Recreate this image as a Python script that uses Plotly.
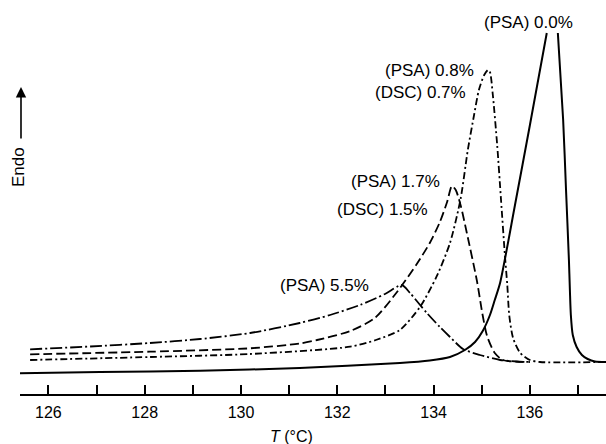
import plotly.graph_objects as go

# Temperature (°C) and endothermic signal (arbitrary units)
T_psa00 = [125.41, 127.07, 129.15, 131.22, 133.30, 133.92, 134.34, 134.65, 134.86, 135.02,
           135.17, 135.27, 135.38, 135.69, 136.00, 136.35, 136.46, 136.58, 136.69, 136.75,
           136.81, 136.83, 136.85, 136.89, 136.97, 137.08, 137.20, 137.35, 137.58]
E_psa00 = [2.07, 2.20, 2.33, 2.60, 3.10, 3.35, 3.70, 4.40, 5.20, 6.30,
           7.90, 9.40, 11.10, 18.90, 26.90, 36.10, None, 36.10, 27.40, 20.40,
           13.40, 10.40, 7.90, 5.90, 4.70, 3.90, 3.50, 3.25, 3.20]

T_psa08 = [125.62, 128.11, 130.19, 132.27, 132.80, 133.30, 133.72, 134.06, 134.34, 134.56,
           134.71, 134.84, 134.94, 135.05, 135.13, 135.17, 135.23, 135.32, 135.40, 135.48,
           135.53, 135.57, 135.65, 135.80, 136.00, 136.21, 137.58]
E_psa08 = [3.40, 3.70, 4.00, 4.73, 5.40, 6.40, 8.73, 11.73, 15.10, 19.50,
           24.40, 27.90, 30.40, 31.90, 32.40, 32.20, 29.90, 24.90, 19.40, 13.90,
           10.90, 7.90, 5.60, 4.10, 3.40, 3.20, 3.20]

T_psa17 = [125.62, 128.11, 130.19, 131.22, 131.58, 132.27, 132.78, 133.24, 133.65, 133.92,
           134.13, 134.28, 134.38, 134.46, 134.57, 134.69, 134.90, 135.01, 135.11, 135.27,
           135.44, 136.00]
E_psa17 = [3.97, 4.23, 4.57, 5.05, 5.40, 6.30, 7.60, 10.20, 13.00, 15.10,
           17.20, 19.20, 20.80, 20.40, 18.70, 16.10, 11.30, 8.10, 5.80, 4.10,
           3.40, 3.20]

T_psa55 = [125.62, 126.87, 128.11, 129.15, 130.19, 131.22, 131.85, 132.47, 132.99, 133.34,
           133.51, 133.86, 134.13, 134.34, 134.61, 134.96, 135.38, 135.73, 136.00]
E_psa55 = [4.47, 4.75, 5.10, 5.50, 6.10, 7.10, 7.90, 8.90, 10.00, 10.90,
           10.10, 8.10, 6.70, 5.70, 4.50, 3.90, 3.40, 3.25, 3.20]

tick_vals = [126, 127, 128, 129, 130, 131, 132, 133, 134, 135, 136, 137]
tick_text = ["126", "", "128", "", "130", "", "132", "", "134", "", "136", ""]

FONT = "Liberation Sans, Arial, sans-serif"

fig = go.Figure()
fig.add_trace(go.Scatter(x=T_psa55, y=E_psa55, mode="lines",
                         line=dict(color="black", width=1.8, shape="spline", smoothing=0.7,
                                   dash="12px,3px,2px,3px")))
fig.add_trace(go.Scatter(x=T_psa17, y=E_psa17, mode="lines",
                         line=dict(color="black", width=1.8, shape="spline", smoothing=0.7,
                                   dash="9px,4px")))
fig.add_trace(go.Scatter(x=T_psa08, y=E_psa08, mode="lines",
                         line=dict(color="black", width=1.8, shape="spline", smoothing=0.7,
                                   dash="7px,3px,2px,3px")))
fig.add_trace(go.Scatter(x=T_psa00, y=E_psa00, mode="lines", connectgaps=False,
                         line=dict(color="black", width=2, shape="spline", smoothing=0.7)))

labels = [
    ("(PSA) 0.0%", 0.8677, 0.9424),
    ("(PSA) 0.8%", 0.6991, 0.8206),
    ("(DSC) 0.7%", 0.6834, 0.7640),
    ("(PSA) 1.7%", 0.6404, 0.5381),
    ("(DSC) 1.5%", 0.6186, 0.4695),
    ("(PSA) 5.5%", 0.5188, 0.2766),
]
for txt, xp, yp in labels:
    fig.add_annotation(text=txt, x=xp, y=yp, xref="paper", yref="paper",
                       showarrow=False, xanchor="center", yanchor="middle",
                       font=dict(family=FONT, size=17, color="black"))

fig.add_annotation(text="<i>T</i> (°C)", x=0.4625, y=-0.1091, xref="paper", yref="paper",
                   showarrow=False, xanchor="center", yanchor="middle",
                   font=dict(family=FONT, size=16, color="black"))
fig.add_annotation(text="Endo", x=-0.0034, y=0.576, xref="paper", yref="paper",
                   showarrow=False, textangle=-90, xanchor="center", yanchor="middle",
                   font=dict(family=FONT, size=17, color="black"))
fig.add_annotation(text="", x=0.0017, y=0.779, xref="paper", yref="paper",
                   showarrow=True, ax=0, ay=53, arrowhead=2, arrowsize=1.3,
                   arrowwidth=1.6, arrowcolor="black")

fig.update_layout(
    width=606, height=444,
    margin=dict(l=20, r=0, t=0, b=50),
    paper_bgcolor="white", plot_bgcolor="white",
    showlegend=False,
    xaxis=dict(range=[125.41, 137.58], showgrid=False, zeroline=False,
               showline=True, linecolor="black", linewidth=2,
               ticks="inside", ticklen=9, tickwidth=1.5, tickcolor="black",
               tickvals=tick_vals, ticktext=tick_text, ticklabelstandoff=3,
               tickfont=dict(family=FONT, size=16, color="black")),
    yaxis=dict(range=[0, 39.4], visible=False),
)

fig.write_html("out.html")
